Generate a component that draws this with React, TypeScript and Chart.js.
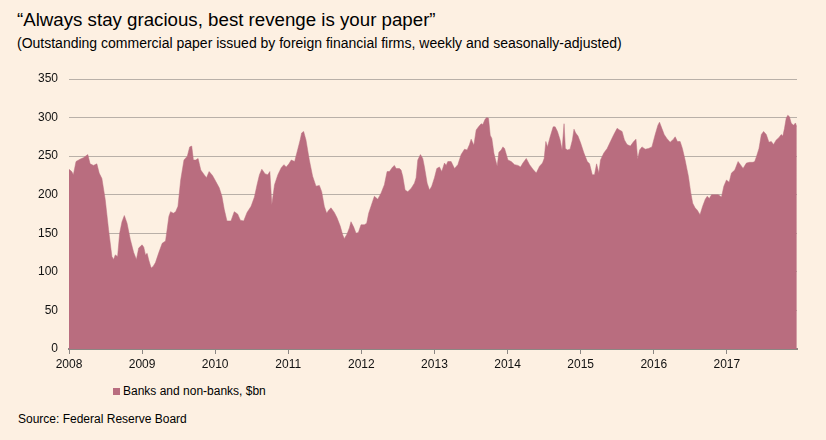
import React, { useEffect, useRef } from "react";
import { Chart, registerables } from "chart.js";

Chart.register(...registerables);

const TITLE = "\u201CAlways stay gracious, best revenge is your paper\u201D";
const SUBTITLE =
  "(Outstanding commercial paper issued by foreign financial firms, weekly and seasonally-adjusted)";
const SERIES_LABEL = "Banks and non-banks, $bn";
const SOURCE = "Source: Federal Reserve Board";

const YEAR_TICKS = [2008, 2009, 2010, 2011, 2012, 2013, 2014, 2015, 2016, 2017];
const Y_TICKS = [0, 50, 100, 150, 200, 250, 300, 350];
const X_END = 2017.96;

// decimal-year dates of the readings
const DATES = [
  2008.0, 2008.037, 2008.06, 2008.096, 2008.151, 2008.197, 2008.257, 2008.289, 2008.335, 2008.381,
  2008.413, 2008.45, 2008.495, 2008.541, 2008.587, 2008.61, 2008.633, 2008.665, 2008.693, 2008.725,
  2008.757, 2008.794, 2008.839, 2008.885, 2008.922, 2008.954, 2009.0, 2009.023, 2009.046, 2009.069,
  2009.092, 2009.124, 2009.151, 2009.183, 2009.229, 2009.275, 2009.321, 2009.367, 2009.39, 2009.427,
  2009.459, 2009.491, 2009.528, 2009.573, 2009.619, 2009.651, 2009.679, 2009.702, 2009.734, 2009.766,
  2009.803, 2009.849, 2009.881, 2009.917, 2009.963, 2010.009, 2010.055, 2010.092, 2010.124, 2010.161,
  2010.216, 2010.261, 2010.307, 2010.344, 2010.39, 2010.436, 2010.491, 2010.537, 2010.573, 2010.606,
  2010.638, 2010.683, 2010.72, 2010.748, 2010.775, 2010.812, 2010.858, 2010.904, 2010.94, 2010.972,
  2011.009, 2011.041, 2011.087, 2011.133, 2011.165, 2011.183, 2011.21, 2011.242, 2011.288, 2011.333,
  2011.379, 2011.425, 2011.457, 2011.493, 2011.525, 2011.553, 2011.584, 2011.63, 2011.667, 2011.712,
  2011.744, 2011.767, 2011.804, 2011.836, 2011.858, 2011.895, 2011.927, 2011.959, 2011.995, 2012.041,
  2012.073, 2012.1, 2012.132, 2012.178, 2012.224, 2012.269, 2012.315, 2012.352, 2012.384, 2012.429,
  2012.452, 2012.475, 2012.521, 2012.543, 2012.566, 2012.598, 2012.635, 2012.68, 2012.726, 2012.749,
  2012.772, 2012.808, 2012.84, 2012.863, 2012.9, 2012.932, 2012.963, 2013.0, 2013.032, 2013.068,
  2013.1, 2013.137, 2013.16, 2013.183, 2013.228, 2013.274, 2013.32, 2013.365, 2013.411, 2013.447,
  2013.479, 2013.502, 2013.539, 2013.571, 2013.603, 2013.639, 2013.662, 2013.694, 2013.717, 2013.74,
  2013.763, 2013.785, 2013.813, 2013.836, 2013.858, 2013.881, 2013.913, 2013.936, 2013.959, 2014.005,
  2014.05, 2014.096, 2014.142, 2014.178, 2014.21, 2014.256, 2014.301, 2014.347, 2014.393, 2014.438,
  2014.478, 2014.501, 2014.524, 2014.546, 2014.583, 2014.624, 2014.651, 2014.683, 2014.719, 2014.746,
  2014.773, 2014.791, 2014.819, 2014.855, 2014.887, 2014.909, 2014.932, 2014.964, 2015.0, 2015.045,
  2015.091, 2015.122, 2015.159, 2015.19, 2015.218, 2015.249, 2015.272, 2015.317, 2015.363, 2015.408,
  2015.454, 2015.499, 2015.531, 2015.567, 2015.599, 2015.635, 2015.68, 2015.726, 2015.757, 2015.78,
  2015.807, 2015.839, 2015.884, 2015.93, 2015.975, 2016.02, 2016.057, 2016.079, 2016.111, 2016.143,
  2016.179, 2016.224, 2016.27, 2016.293, 2016.324, 2016.361, 2016.392, 2016.429, 2016.474, 2016.506,
  2016.533, 2016.565, 2016.596, 2016.633, 2016.669, 2016.705, 2016.732, 2016.76, 2016.791, 2016.837,
  2016.882, 2016.927, 2016.959, 2016.995, 2017.032, 2017.063, 2017.109, 2017.154, 2017.186, 2017.222,
  2017.268, 2017.313, 2017.358, 2017.381, 2017.404, 2017.44, 2017.472, 2017.503, 2017.54, 2017.576,
  2017.608, 2017.639, 2017.676, 2017.712, 2017.744, 2017.766, 2017.789, 2017.812, 2017.834, 2017.857,
  2017.88, 2017.912, 2017.939, 2017.957,
];

// outstanding commercial paper, $bn
const VALUES = [
  233, 230, 226, 243, 246, 248, 252, 240, 238, 240,
  228, 221, 194, 155, 120, 116, 122, 120, 150, 165,
  173, 163, 142, 125, 116, 131, 135, 132, 122, 124,
  115, 105, 107, 112, 125, 137, 140, 172, 178, 176,
  178, 185, 219, 245, 250, 262, 263, 245, 245, 247,
  232, 226, 222, 230, 225, 217, 209, 198, 181, 166,
  166, 178, 175, 167, 166, 177, 185, 197, 213, 226,
  233, 227, 226, 230, 187, 213, 226, 235, 239, 236,
  240, 245, 243, 260, 272, 280, 282, 271, 245, 224,
  211, 212, 204, 185, 176, 180, 183, 177, 170, 159,
  148, 143, 149, 157, 165, 158, 150, 151, 161, 161,
  163, 176, 185, 198, 194, 202, 213, 230, 230, 236,
  238, 234, 234, 232, 224, 206, 204, 208, 215, 222,
  245, 252, 247, 236, 215, 206, 211, 222, 234, 236,
  230, 241, 238, 243, 243, 234, 239, 252, 259, 258,
  265, 272, 264, 284, 288, 292, 291, 298, 300, 299,
  277, 273, 254, 245, 237, 255, 258, 262, 260, 245,
  243, 239, 238, 236, 241, 247, 239, 233, 228, 237,
  241, 247, 269, 262, 275, 288, 288, 282, 271, 258,
  292, 260, 258, 259, 271, 285, 280, 276, 267, 254,
  243, 240, 226, 226, 240, 228, 245, 254, 260, 269,
  278, 286, 284, 282, 271, 265, 263, 269, 272, 246,
  258, 262, 259, 260, 262, 278, 290, 294, 286, 278,
  273, 268, 272, 275, 269, 269, 260, 245, 224, 203,
  189, 183, 180, 174, 185, 194, 198, 195, 200, 200,
  200, 197, 211, 219, 216, 228, 232, 243, 239, 234,
  241, 242, 242, 243, 249, 260, 278, 282, 278, 268,
  269, 265, 271, 274, 278, 276, 286, 299, 303, 301,
  293, 290, 293, 288,
];

const BG = "#FDF0E2";
const FILL = "#B96D7F";
const FONT = "'Liberation Sans', Arial, sans-serif";

export default function App() {
  const canvasRef = useRef<HTMLCanvasElement | null>(null);

  useEffect(() => {
    const canvas = canvasRef.current;
    if (!canvas) return;
    const points = DATES.map((d, i) => ({ x: d, y: VALUES[i] }));
    const chart = new Chart(canvas, {
      type: "line",
      data: {
        datasets: [
          {
            label: SERIES_LABEL,
            data: points,
            fill: "origin",
            backgroundColor: FILL,
            borderColor: FILL,
            borderWidth: 0.5,
            pointRadius: 0,
            tension: 0,
          },
        ],
      },
      options: {
        responsive: false,
        animation: false,
        events: [],
        layout: { padding: { top: 19, right: 29, left: 0, bottom: 0 } },
        plugins: {
          legend: { display: false },
          tooltip: { enabled: false },
          title: { display: false },
        },
        scales: {
          x: {
            type: "linear",
            min: 2008,
            max: X_END,
            afterBuildTicks: (scale: any) => {
              scale.ticks = YEAR_TICKS.map((v) => ({ value: v }));
            },
            afterFit: (scale: any) => {
              scale.height = 31;
            },
            ticks: {
              autoSkip: false,
              maxRotation: 0,
              padding: 3,
              color: "#111",
              font: { family: FONT, size: 12 },
              callback: (v: any) => String(v),
            },
            grid: {
              drawOnChartArea: false,
              drawTicks: true,
              tickLength: 5,
              color: "#8C8784",
              lineWidth: 1,
            },
            border: { display: true, color: "#8C8784", width: 2 },
          },
          y: {
            min: 0,
            max: 350,
            afterBuildTicks: (scale: any) => {
              scale.ticks = Y_TICKS.map((v) => ({ value: v }));
            },
            afterFit: (scale: any) => {
              scale.width = 69;
            },
            ticks: {
              padding: 11,
              color: "#111",
              font: { family: FONT, size: 12 },
            },
            grid: {
              drawTicks: false,
              color: "#B9B0A8",
              lineWidth: 1,
            },
            border: { display: false },
          },
        },
      },
    });
    return () => chart.destroy();
  }, []);

  return (
    <div
      style={{
        position: "absolute",
        left: 0,
        top: 0,
        width: 826,
        height: 440,
        background: BG,
        fontFamily: FONT,
        color: "#000",
        overflow: "hidden",
      }}
    >
      <div style={{ position: "absolute", left: 17, top: 9, fontSize: 18.7, lineHeight: "22px", whiteSpace: "nowrap" }}>
        {TITLE}
      </div>
      <div style={{ position: "absolute", left: 17, top: 35, fontSize: 14, lineHeight: "17px", whiteSpace: "nowrap" }}>
        {SUBTITLE}
      </div>
      <canvas
        ref={canvasRef}
        width={826}
        height={320}
        style={{ position: "absolute", left: 0, top: 60, width: 826, height: 320 }}
      />
      <div
        style={{
          position: "absolute",
          left: 113,
          top: 384,
          fontSize: 12,
          lineHeight: "15px",
          whiteSpace: "nowrap",
          display: "flex",
          alignItems: "center",
        }}
      >
        <span style={{ display: "inline-block", width: 7, height: 7, background: FILL, marginRight: 3 }} />
        <span>{SERIES_LABEL}</span>
      </div>
      <div style={{ position: "absolute", left: 18, top: 412, fontSize: 12, lineHeight: "15px", whiteSpace: "nowrap" }}>
        {SOURCE}
      </div>
    </div>
  );
}
